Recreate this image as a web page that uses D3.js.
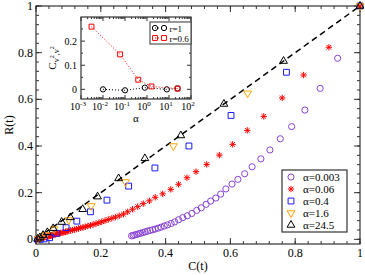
<!DOCTYPE html>
<html>
<head>
<meta charset="utf-8">
<script src="https://cdn.jsdelivr.net/npm/d3@7"></script>
<style>
  body { margin: 0; background: #fff; }
  svg { display: block; font-family: "Liberation Serif", "DejaVu Serif", serif; }
</style>
</head>
<body>
<div class="graph"></div>
<script>
// main panel: R(t) vs C(t) for several alpha
const c003 = [1, 0.931, 0.877, 0.830, 0.789, 0.754, 0.722, 0.694, 0.667, 0.644, 0.623, 0.605, 0.586, 0.570, 0.555, 0.539, 0.525, 0.510, 0.496, 0.481, 0.467, 0.453, 0.440, 0.428, 0.417, 0.406, 0.396, 0.386, 0.377, 0.368, 0.360, 0.352, 0.344, 0.337, 0.330, 0.323, 0.317, 0.311, 0.305, 0.300, 0.295];
const r003 = [1, 0.776, 0.647, 0.554, 0.483, 0.431, 0.383, 0.345, 0.311, 0.281, 0.257, 0.237, 0.216, 0.194, 0.177, 0.164, 0.150, 0.135, 0.124, 0.111, 0.101, 0.093, 0.084, 0.075, 0.068, 0.062, 0.057, 0.052, 0.048, 0.044, 0.041, 0.038, 0.035, 0.032, 0.029, 0.026, 0.024, 0.021, 0.019, 0.017, 0.015];

const c006 = [1, 0.904, 0.826, 0.760, 0.703, 0.652, 0.607, 0.566, 0.527, 0.494, 0.466, 0.440, 0.416, 0.391, 0.368, 0.350, 0.331, 0.314, 0.298, 0.283, 0.270, 0.257, 0.245, 0.234, 0.223, 0.213, 0.203, 0.194, 0.185, 0.176, 0.168, 0.160, 0.152, 0.145, 0.138, 0.131, 0.125, 0.119, 0.113, 0.107, 0.101, 0.096, 0.091, 0.086, 0.081, 0.076, 0.072, 0.068, 0.064, 0.060, 0.056, 0.052, 0.048, 0.045, 0.042, 0.038, 0.035, 0.032, 0.029, 0.026, 0.023, 0.020, 0.017, 0.014, 0.011, 0.008, 0.005, 0.003];
const r006 = [1, 0.823, 0.704, 0.606, 0.527, 0.467, 0.407, 0.361, 0.321, 0.290, 0.264, 0.236, 0.214, 0.195, 0.180, 0.165, 0.153, 0.140, 0.129, 0.118, 0.108, 0.101, 0.095, 0.090, 0.085, 0.080, 0.075, 0.071, 0.067, 0.063, 0.060, 0.057, 0.054, 0.051, 0.049, 0.046, 0.044, 0.042, 0.040, 0.038, 0.036, 0.034, 0.032, 0.030, 0.029, 0.027, 0.026, 0.024, 0.023, 0.021, 0.020, 0.018, 0.017, 0.016, 0.015, 0.013, 0.012, 0.011, 0.010, 0.009, 0.008, 0.007, 0.006, 0.005, 0.004, 0.003, 0.002, 0.001];

const c04 = [1, 0.773, 0.602, 0.472, 0.367, 0.286, 0.219, 0.168, 0.126, 0.093, 0.064, 0.042, 0.025, 0.013, 0.005];
const r04 = [1, 0.716, 0.531, 0.400, 0.306, 0.228, 0.168, 0.118, 0.078, 0.050, 0.026, 0.007, 0.002, 0.000, 0.000];

const c16 = [1, 0.653, 0.424, 0.276, 0.170, 0.101, 0.056, 0.030, 0.015, 0.006];
const r16 = [1, 0.626, 0.400, 0.246, 0.143, 0.083, 0.044, 0.020, 0.008, 0.002];

const c245 = [1, 0.764, 0.580, 0.447, 0.336, 0.255, 0.190, 0.144, 0.106, 0.079, 0.053, 0.035, 0.022, 0.012, 0.005];
const r245 = [1, 0.764, 0.580, 0.445, 0.347, 0.261, 0.183, 0.129, 0.094, 0.074, 0.047, 0.030, 0.018, 0.008, 0.002];

const legend_labels = ['α=0.003', 'α=0.06', 'α=0.4', 'α=1.6', 'α=24.5'];
const x_ticks = [0, 0.2, 0.4, 0.6, 0.8, 1];
const y_ticks = [0, 0.2, 0.4, 0.6, 0.8, 1];

// inset: C_{v2,v2} vs alpha
const alpha_r1 = [0.01, 0.1, 0.8, 8, 24.5];
const cv_r1 = [0.0, -0.004, 0.007, 0.0, 0.004];
const alpha_r06 = [0.003, 0.06, 0.4, 1.6, 24.5];
const cv_r06 = [0.26, 0.145, 0.04, 0.012, 0.003];
const inset_y_ticks = [0, 0.1, 0.2];
const inset_x_exps = [-3, -2, -1, 0, 1, 2];

const dims = {width: 365, height: 275, left: 36, right: 360, top: 6, bottom: 244};
const inset_dims = {left: 81, right: 191, top: 17, bottom: 99};

const svg = d3.select('.graph').append('svg')
    .attr('width', dims.width)
    .attr('height', dims.height);

const x = d3.scaleLinear().domain([0, 1]).range([dims.left, dims.right]);
const y = d3.scaleLinear().domain([-0.02, 1]).range([dims.bottom, dims.top]);

const axis_color = '#333';

// ticks on all four sides, pointing inwards
function frame_ticks(g, xs, ys, xscale, yscale, box, majorLen, minorLen, xMinor, yMinor) {
    g.append('rect')
        .attr('x', box.left).attr('y', box.top)
        .attr('width', box.right - box.left).attr('height', box.bottom - box.top)
        .attr('fill', 'none').attr('stroke', axis_color).attr('stroke-width', 1.2);
    const tick = (x1, y1, x2, y2) => g.append('line')
        .attr('x1', x1).attr('y1', y1).attr('x2', x2).attr('y2', y2)
        .attr('stroke', axis_color).attr('stroke-width', 1);
    xMinor.forEach(v => { const p = xscale(v); tick(p, box.bottom, p, box.bottom - minorLen); tick(p, box.top, p, box.top + minorLen); });
    xs.forEach(v => { const p = xscale(v); tick(p, box.bottom, p, box.bottom - majorLen); tick(p, box.top, p, box.top + majorLen); });
    yMinor.forEach(v => { const p = yscale(v); tick(box.left, p, box.left + minorLen, p); tick(box.right, p, box.right - minorLen, p); });
    ys.forEach(v => { const p = yscale(v); tick(box.left, p, box.left + majorLen, p); tick(box.right, p, box.right - majorLen, p); });
}

const main_minor = d3.range(0, 1.0001, 0.04).map(v => +v.toFixed(2));
const main_g = svg.append('g');
frame_ticks(main_g, x_ticks, y_ticks, x, y, dims, 6, 3, main_minor, main_minor);

main_g.selectAll('.xlab').data(x_ticks).enter().append('text')
    .attr('x', d => x(d)).attr('y', dims.bottom + 13)
    .attr('text-anchor', 'middle').attr('font-size', 12)
    .text(d => d3.format('')(d));
main_g.selectAll('.ylab').data(y_ticks).enter().append('text')
    .attr('x', dims.left - 3).attr('y', d => y(d) + 4)
    .attr('text-anchor', 'end').attr('font-size', 12)
    .text(d => d3.format('')(d));

svg.append('text')
    .attr('x', (dims.left + dims.right) / 2).attr('y', 270)
    .attr('text-anchor', 'middle').attr('font-size', 12)
    .text('C(t)');
svg.append('text')
    .attr('transform', 'translate(13,' + ((dims.top + dims.bottom) / 2) + ') rotate(-90)')
    .attr('text-anchor', 'middle').attr('font-size', 12)
    .text('R(t)');

// diagonal R = C
svg.append('line')
    .attr('x1', x(0)).attr('y1', y(0)).attr('x2', x(1)).attr('y2', y(1))
    .attr('stroke', '#000').attr('stroke-width', 1.5).attr('stroke-dasharray', '6,4');

// marker shapes
const star_path = (h) => {
    const k = h * 0.72;
    return 'M' + (-h) + ',0L' + h + ',0M0,' + (-h) + 'L0,' + h +
        'M' + (-k) + ',' + (-k) + 'L' + k + ',' + k + 'M' + (-k) + ',' + k + 'L' + k + ',' + (-k);
};
const markers = [
    {c: c003, r: r003, color: '#8a44d6', path: d3.symbol(d3.symbolCircle, 30)(), rot: 0},
    {c: c006, r: r006, color: '#ff0000', path: star_path(3.2), rot: 0},
    {c: c04, r: r04, color: '#1a1aff', path: d3.symbol(d3.symbolSquare, 34)(), rot: 0},
    {c: c16, r: r16, color: '#ffa500', path: d3.symbol(d3.symbolTriangle, 26)(), rot: 180},
    {c: c245, r: r245, color: '#000000', path: d3.symbol(d3.symbolTriangle, 26)(), rot: 0}
];

markers.forEach(s => {
    svg.append('g').selectAll('path').data(s.c).enter().append('path')
        .attr('d', s.path)
        .attr('transform', (d, i) => 'translate(' + x(d) + ',' + y(s.r[i]) + ') rotate(' + s.rot + ')')
        .attr('fill', 'none')
        .attr('stroke', s.color)
        .attr('stroke-width', 1);
});

// main legend
const legend = {left: 282, top: 170, right: 347, bottom: 232};
svg.append('rect')
    .attr('x', legend.left).attr('y', legend.top)
    .attr('width', legend.right - legend.left).attr('height', legend.bottom - legend.top)
    .attr('fill', '#fff').attr('stroke', axis_color).attr('stroke-width', 1.2);
legend_labels.forEach((label, i) => {
    const ly = legend.top + 7 + i * 12;
    svg.append('path')
        .attr('d', markers[i].path)
        .attr('transform', 'translate(' + (legend.left + 9) + ',' + ly + ') rotate(' + markers[i].rot + ')')
        .attr('fill', 'none').attr('stroke', markers[i].color).attr('stroke-width', 1);
    svg.append('text')
        .attr('x', legend.left + 21).attr('y', ly + 4)
        .attr('font-size', 11)
        .text(label);
});

// inset
const xi = d3.scaleLog().domain([1e-3, 1e2]).range([inset_dims.left, inset_dims.right]);
const yi = d3.scaleLinear().domain([-0.04, 0.3]).range([inset_dims.bottom, inset_dims.top]);

const inset_g = svg.append('g');
inset_g.append('rect')
    .attr('x', inset_dims.left).attr('y', inset_dims.top)
    .attr('width', inset_dims.right - inset_dims.left).attr('height', inset_dims.bottom - inset_dims.top)
    .attr('fill', '#fff');

const inset_major = inset_x_exps.map(e => Math.pow(10, e));
const inset_minor = [];
inset_x_exps.slice(0, -1).forEach(e => {
    for (let m = 2; m <= 9; m++) inset_minor.push(m * Math.pow(10, e));
});
frame_ticks(inset_g, inset_major, inset_y_ticks, xi, yi, inset_dims, 4, 2, inset_minor, [0.05, 0.15, 0.25]);

inset_x_exps.forEach(e => {
    const t = inset_g.append('text')
        .attr('x', xi(Math.pow(10, e)) - 3).attr('y', inset_dims.bottom + 11)
        .attr('text-anchor', 'middle').attr('font-size', 10);
    t.append('tspan').text('10');
    t.append('tspan').attr('dy', -4).attr('font-size', 7).text(e);
});
inset_g.selectAll('.iylab').data(inset_y_ticks).enter().append('text')
    .attr('x', inset_dims.left - 4).attr('y', d => yi(d) + 3.5)
    .attr('text-anchor', 'end').attr('font-size', 10)
    .text(d => d3.format('')(d));

inset_g.append('text')
    .attr('x', (inset_dims.left + inset_dims.right) / 2).attr('y', inset_dims.bottom + 23)
    .attr('text-anchor', 'middle').attr('font-size', 11)
    .text('α');

const ylab = inset_g.append('text')
    .attr('transform', 'translate(' + (inset_dims.left - 25) + ',' + ((inset_dims.top + inset_dims.bottom) / 2) + ') rotate(-90)')
    .attr('text-anchor', 'middle').attr('font-size', 11);
ylab.append('tspan').text('C');
ylab.append('tspan').attr('dy', 3).attr('font-size', 8).text('v');
ylab.append('tspan').attr('dy', -5).attr('font-size', 6).text('2');
ylab.append('tspan').attr('dy', 5).attr('font-size', 8).text(',v');
ylab.append('tspan').attr('dy', -5).attr('font-size', 6).text('2');

const inset_series = [
    {a: alpha_r1, v: cv_r1, color: '#000', path: d3.symbol(d3.symbolCircle, 22)(), label: 'r=1'},
    {a: alpha_r06, v: cv_r06, color: '#ff0000', path: d3.symbol(d3.symbolSquare, 24)(), label: 'r=0.6'}
];
const inset_line = d3.line();
inset_series.forEach(s => {
    inset_g.append('path')
        .attr('d', inset_line(s.a.map((a, i) => [xi(a), yi(s.v[i])])))
        .attr('fill', 'none').attr('stroke', s.color)
        .attr('stroke-width', 1).attr('stroke-dasharray', '1,2');
    inset_g.append('g').selectAll('path').data(s.a).enter().append('path')
        .attr('d', s.path)
        .attr('transform', (d, i) => 'translate(' + xi(d) + ',' + yi(s.v[i]) + ')')
        .attr('fill', 'none').attr('stroke', s.color).attr('stroke-width', 1);
});

// inset legend
const ileg = {left: 150, top: 22, right: 191, bottom: 44};
inset_g.append('rect')
    .attr('x', ileg.left).attr('y', ileg.top)
    .attr('width', ileg.right - ileg.left).attr('height', ileg.bottom - ileg.top)
    .attr('fill', '#fff').attr('stroke', axis_color).attr('stroke-width', 1);
inset_series.forEach((s, i) => {
    const ly = ileg.top + 6 + i * 10;
    inset_g.append('line')
        .attr('x1', ileg.left + 5).attr('x2', ileg.left + 14).attr('y1', ly).attr('y2', ly)
        .attr('stroke', s.color).attr('stroke-dasharray', '1,2');
    [ileg.left + 5, ileg.left + 14].forEach(px => {
        inset_g.append('path').attr('d', s.path)
            .attr('transform', 'translate(' + px + ',' + ly + ')')
            .attr('fill', 'none').attr('stroke', s.color);
    });
    inset_g.append('text')
        .attr('x', ileg.left + 19.5).attr('y', ly + 3.5)
        .attr('font-size', 9)
        .text(s.label);
});
</script>
</body>
</html>
